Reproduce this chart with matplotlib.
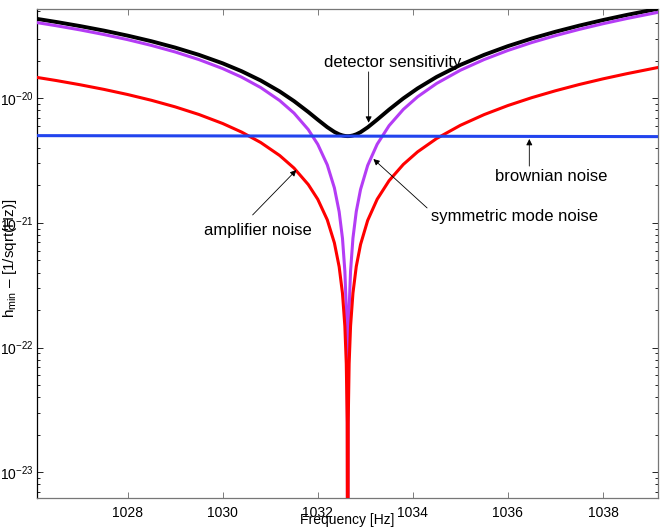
import numpy as np
import matplotlib
matplotlib.use('Agg')
import matplotlib.pyplot as plt
from matplotlib.ticker import LogLocator, NullFormatter, FixedLocator

plt.rcParams['font.family'] = 'Liberation Sans'
plt.rcParams['mathtext.fontset'] = 'custom'
plt.rcParams['mathtext.rm'] = 'Liberation Sans'
plt.rcParams['mathtext.it'] = 'Liberation Sans:italic'
plt.rcParams['mathtext.bf'] = 'Liberation Sans:bold'

# frequency grid [Hz], denser around the resonance
freq = [1026.1, 1026.5, 1027.0, 1027.5, 1028.0, 1028.5, 1029.0, 1029.5,
        1030.0, 1030.4, 1030.8, 1031.2, 1031.5, 1031.8, 1032.0, 1032.2,
        1032.35, 1032.45, 1032.52, 1032.57, 1032.6, 1032.62, 1032.63,
        1032.64, 1032.66, 1032.69, 1032.74, 1032.81, 1032.9, 1033.05,
        1033.25, 1033.5, 1033.8, 1034.1, 1034.5, 1035.0, 1035.5, 1036.0,
        1036.5, 1037.0, 1037.5, 1038.0, 1038.5, 1039.15]

# noise curves in units of 1e-21 / sqrt(Hz)
amplifier = [14.70, 13.89, 12.85, 11.80, 10.73, 9.646, 8.541, 7.420,
             6.280, 5.357, 4.421, 3.475, 2.758, 2.034, 1.549, 1.060,
             0.6916, 0.4453, 0.2724, 0.1487, 0.0744, 0.0248, 0.0001,
             0.0248, 0.0744, 0.1489, 0.2732, 0.4475, 0.6721, 1.048,
             1.551, 2.184, 2.950, 3.721, 4.760, 6.074, 7.405, 8.754,
             10.12, 11.50, 12.91, 14.33, 15.76, 17.66]
symmetric = [40.47, 38.23, 35.40, 32.51, 29.57, 26.58, 23.55, 20.46,
             17.32, 14.78, 12.20, 9.591, 7.613, 5.617, 4.276, 2.927,
             1.910, 1.230, 0.7523, 0.4107, 0.2054, 0.0685, 0.0001,
             0.0685, 0.2056, 0.4114, 0.7547, 1.236, 1.857, 2.895,
             4.285, 6.035, 8.151, 10.29, 13.16, 16.80, 20.48, 24.22,
             28.01, 31.84, 35.73, 39.67, 43.66, 48.91]
brownian = [5.020, 5.017, 5.014, 5.010, 5.007, 5.004, 5.000, 4.997,
            4.993, 4.990, 4.988, 4.985, 4.983, 4.981, 4.979, 4.978,
            4.977, 4.976, 4.976, 4.975, 4.975, 4.975, 4.975,
            4.975, 4.975, 4.975, 4.974, 4.974, 4.973, 4.972,
            4.971, 4.969, 4.967, 4.965, 4.962, 4.959, 4.955, 4.952,
            4.948, 4.945, 4.941, 4.938, 4.934, 4.930]
sensitivity = [43.35, 40.98, 37.99, 34.95, 31.85, 28.72, 25.54, 22.33,
               19.09, 16.49, 13.90, 11.35, 9.505, 7.775, 6.740, 5.870,
               5.376, 5.145, 5.040, 4.994, 4.980, 4.976, 4.975,
               4.976, 4.980, 4.994, 5.038, 5.145, 5.351, 5.848,
               6.744, 8.117, 9.991, 12.01, 14.85, 18.54, 22.33, 26.23,
               30.19, 34.21, 38.31, 42.47, 46.68, 52.23]
unit = 1e-21

xticks = [1028, 1030, 1032, 1034, 1036, 1038]

fig = plt.figure(figsize=(6.67, 5.28), dpi=100)
ax = fig.add_axes([0.0559, 0.0574, 0.9301, 0.925])

f = np.array(freq)
ax.semilogy(f, np.array(sensitivity) * unit, color='black', lw=2.8, zorder=3)
ax.semilogy(f, np.array(symmetric) * unit, color='#b43cf5', lw=2.2, zorder=4)
ax.semilogy(f, np.array(amplifier) * unit, color='#ff0000', lw=2.2, zorder=5)
ax.semilogy(f, np.array(brownian) * unit, color='#2244ee', lw=2.2, zorder=6)

ax.set_xlim(1026.1, 1039.15)
ax.set_ylim(6.25e-24, 5.18e-20)

ax.xaxis.set_major_locator(FixedLocator(xticks))
ax.yaxis.set_major_locator(LogLocator(base=10, numticks=10))
ax.yaxis.set_minor_locator(LogLocator(base=10, subs=np.arange(2, 10), numticks=20))
ax.yaxis.set_minor_formatter(NullFormatter())

ax.tick_params(which='both', direction='in', top=True, right=True)
ax.tick_params(which='major', length=4.3, width=0.6)
ax.tick_params(which='minor', length=2.4, width=0.6)
ax.tick_params(axis='x', labelsize=10, pad=6, color='#666666')
ax.tick_params(axis='y', labelsize=10, pad=2.5)

for side in ['top', 'bottom', 'right']:
    ax.spines[side].set_color('#777777')
ax.spines['left'].set_color('black')
for s in ax.spines.values():
    s.set_linewidth(0.9)

ax.set_xlabel('Frequency [Hz]', fontsize=10)
ax.xaxis.set_label_coords(0.5, -0.031)
ax.set_ylabel(r'h$_{\mathrm{min}}$ – [1/sqrt(Hz)]', fontsize=11)
ax.yaxis.set_label_coords(-0.0295, 0.491)

arrow = dict(arrowstyle='-|>', lw=0.6, color='black', mutation_scale=9,
             shrinkA=0, shrinkB=0)

labels = [
    ('detector sensitivity', (1033.57, 1.95e-20), (1033.07, 1.63e-20), (1033.07, 6.37e-21)),
    ('brownian noise', (1036.90, 2.34e-21), (1036.45, 2.86e-21), (1036.45, 4.72e-21)),
    ('symmetric mode noise', (1036.14, 1.13e-21), (1034.30, 1.32e-21), (1033.17, 3.26e-21)),
    ('amplifier noise', (1030.73, 8.63e-22), (1030.63, 1.16e-21), (1031.55, 2.66e-21)),
]
for txt, pos, start, tip in labels:
    ax.text(pos[0], pos[1], txt, ha='center', va='center', fontsize=12, zorder=8)
    ax.annotate('', xy=tip, xytext=start, arrowprops=arrow, zorder=8)

fig.savefig('out.png', dpi=100)
